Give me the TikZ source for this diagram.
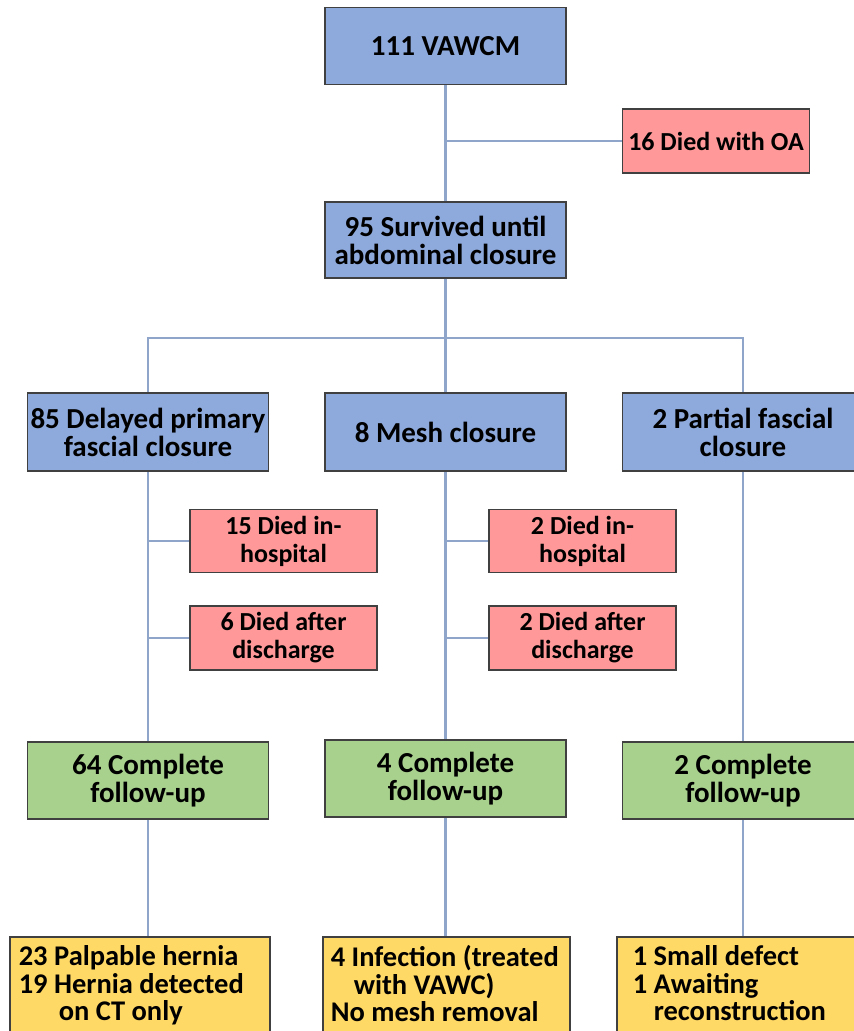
\documentclass[tikz,border=0pt]{standalone}
\usepackage{fontspec}
\setmainfont{Carlito}
\definecolor{boxblue}{HTML}{8EA9DB}
\definecolor{boxred}{HTML}{FF9999}
\definecolor{boxgreen}{HTML}{A9D18E}
\definecolor{boxyellow}{HTML}{FFD966}
\definecolor{linkblue}{HTML}{8FA5CA}
\definecolor{boxedge}{HTML}{404040}
\tikzset{
  box/.style={draw=boxedge,line width=1.6pt,align=center,inner sep=0pt,
    font=\fontsize{29}{28}\selectfont\bfseries},
  bluebox/.style={box,fill=boxblue,minimum width=241pt,minimum height=77pt},
  redbox/.style={box,fill=boxred,minimum width=187pt,minimum height=63pt,
    font=\fontsize{26}{28}\selectfont\bfseries},
  greenbox/.style={box,fill=boxgreen,minimum width=241pt,minimum height=77pt},
  yellowbox/.style={box,fill=boxyellow,align=flush left,anchor=north west,
    inner ysep=9pt,text depth=90pt,font=\fontsize{28.5}{27.5}\selectfont\bfseries},
  link/.style={draw=linkblue,line width=2.6pt},
}
\begin{document}
\begin{tikzpicture}[x=1pt,y=1pt,yscale=-1]
  \clip (0,0) rectangle (854,1031);
  \begin{scope}[]% boxes
    % top
    \node[bluebox] (vawcm) at (445.5,46) {111 VAWCM};
    \node[redbox,minimum height=64pt] (oa) at (716,141) {16 Died with OA};
    \node[bluebox,minimum height=76pt] (surv) at (445.5,240) {95 Survived until\\abdominal closure};
    % closure types
    \node[bluebox,minimum height=78pt] (dpfc) at (148,432) {85 Delayed primary\\fascial closure};
    \node[bluebox,minimum height=78pt] (mesh) at (445.5,432) {8 Mesh closure};
    \node[bluebox,minimum height=78pt] (pfc) at (743,432) {2 Partial fascial\\closure};
    % deaths
    \node[redbox] (dih1) at (283.5,541) {15 Died in-\\hospital};
    \node[redbox,minimum height=64pt] (dad1) at (283.5,638) {6 Died after\\discharge};
    \node[redbox] (dih2) at (582.5,541) {2 Died in-\\hospital};
    \node[redbox,minimum height=64pt] (dad2) at (582.5,638) {2 Died after\\discharge};
    % follow-up
    \node[greenbox] (fu1) at (148,780.5) {64 Complete\\follow-up};
    \node[greenbox] (fu2) at (445.5,778.5) {4 Complete\\follow-up};
    \node[greenbox] (fu3) at (743,780.5) {2 Complete\\follow-up};
    % outcomes
    \node[yellowbox,inner xsep=9pt,text width=242pt] (out1) at (9,936)
      {23 Palpable hernia\\19 Hernia detected\\\hspace*{40pt}on CT only};
    \node[yellowbox,inner xsep=8pt,text width=231pt] (out2) at (322,936)
      {4 Infection (treated\\\hspace*{23pt}with VAWC)\\No mesh removal};
    \node[yellowbox,inner xsep=16pt,text width=216pt] (out3) at (616,936)
      {1 Small defect\\1 Awaiting\\\hspace*{21pt}reconstruction};
  \end{scope}
  \begin{scope}[]% links
    \coordinate (split) at (445.5,338);
    \draw[link] (vawcm.south) -- (surv.north);
    \draw[link] (vawcm.south |- oa.west) -- (oa.west);
    \draw[link] (surv.south) -- (split) -- (mesh.north);
    \draw[link] (dpfc.north) |- (split) -| (pfc.north);
    \draw[link] (dpfc.south) -- (fu1.north);
    \draw[link] (dpfc.south |- dih1.west) -- (dih1.west);
    \draw[link] (dpfc.south |- dad1.west) -- (dad1.west);
    \draw[link] (mesh.south) -- (fu2.north);
    \draw[link] (mesh.south |- dih2.west) -- (dih2.west);
    \draw[link] (mesh.south |- dad2.west) -- (dad2.west);
    \draw[link] (pfc.south) -- (fu3.north);
    \draw[link] (fu1.south) -- (fu1.south |- out1.north);
    \draw[link] (fu2.south) -- (fu2.south |- out2.north);
    \draw[link] (fu3.south) -- (fu3.south |- out3.north);
  \end{scope}
\end{tikzpicture}
\end{document}
